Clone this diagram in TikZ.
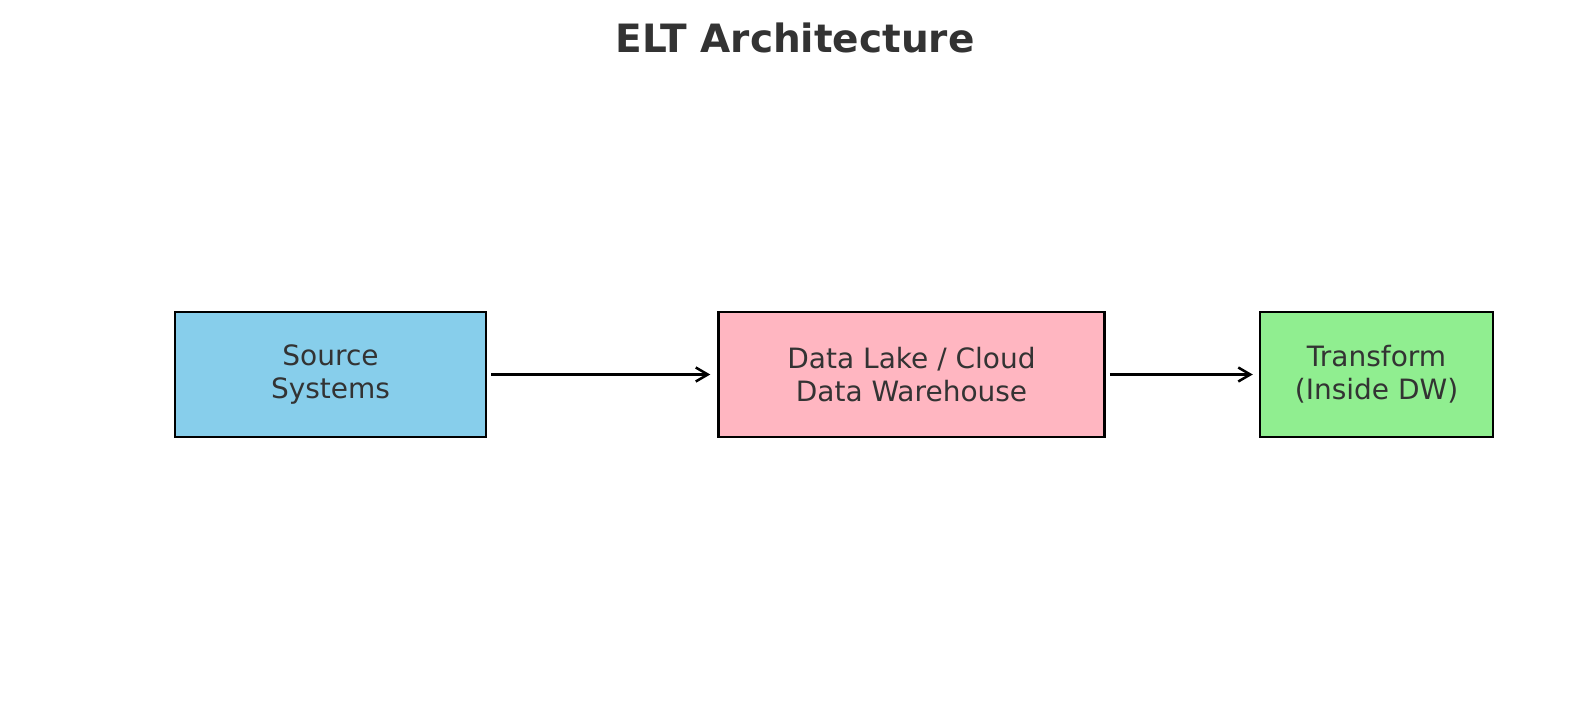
\documentclass[tikz,border=0pt]{standalone}
\usepackage{fontspec}
\setmainfont{DejaVu Sans}
\usepackage{tikz}
\usetikzlibrary{arrows.meta, positioning}
\definecolor{myblue}{RGB}{135,206,235}
\definecolor{mypink}{RGB}{255,182,193}
\definecolor{mygreen}{RGB}{144,238,144}
\definecolor{mytext}{RGB}{51,51,51}

\tikzset{
    stage/.style={draw=black, line width=2.5pt, minimum height=125pt, inner sep=0pt,
                  align=center, text=mytext, font=\fontsize{28}{33}\selectfont},
    flow/.style={-{Straight Barb[length=12pt, width=14pt, line width=2.5pt]}, line width=2.5pt}
}

\begin{document}
\begin{tikzpicture}[x=1pt, y=1pt]
    \useasboundingbox (0,0) rectangle (1589,702);
    \fill[white] (0,0) rectangle (1589,702);
    % title
    \node[text=mytext, font=\fontsize{39}{45}\selectfont\bfseries] (title) at (795,664) {ELT Architecture};
    % stages
    \node[stage, fill=myblue, minimum width=311pt] (src) at (330.5,327.5) {Source\\Systems};
    \node[stage, fill=mypink, minimum width=386pt, right=230pt of src] (dw) {Data Lake / Cloud\\Data Warehouse};
    \node[stage, fill=mygreen, minimum width=233pt, right=153pt of dw] (tf) {Transform\\(Inside DW)};
    % connectors
    \draw[flow] ([xshift=4pt]src.east) -- ([xshift=-7pt]dw.west);
    \draw[flow] ([xshift=4pt]dw.east) -- ([xshift=-6pt]tf.west);
\end{tikzpicture}
\end{document}
